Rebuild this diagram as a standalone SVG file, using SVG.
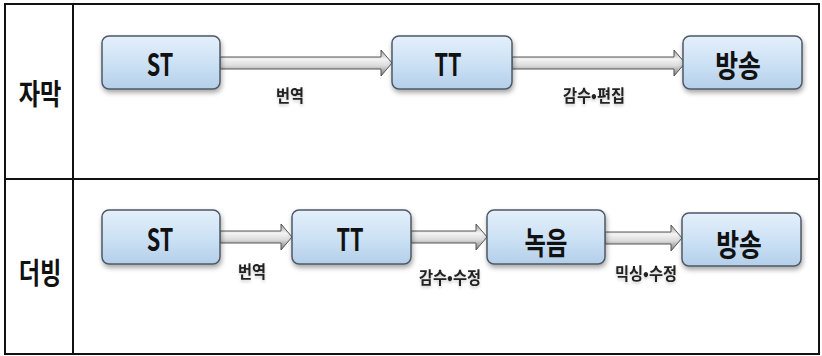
<svg xmlns="http://www.w3.org/2000/svg" width="822" height="356" viewBox="0 0 822 356">
<defs>
<linearGradient id="boxg" x1="0" y1="0" x2="0" y2="1">
<stop offset="0" stop-color="#e4effa"/>
<stop offset="0.5" stop-color="#cde2f5"/>
<stop offset="1" stop-color="#b4cfea"/>
</linearGradient>
<linearGradient id="arrg" x1="0" y1="0" x2="0" y2="1">
<stop offset="0" stop-color="#9a9a9a"/>
<stop offset="0.35" stop-color="#f4f4f4"/>
<stop offset="0.6" stop-color="#dcdcdc"/>
<stop offset="1" stop-color="#7a7a7a"/>
</linearGradient>
<filter id="sh" x="-10%" y="-20%" width="125%" height="150%">
<feDropShadow dx="1" dy="3" stdDeviation="2.5" flood-color="#000" flood-opacity="0.35"/>
</filter>
<filter id="tsh" x="-20%" y="-30%" width="140%" height="170%">
<feDropShadow dx="0" dy="2" stdDeviation="1.5" flood-color="#000" flood-opacity="0.2"/>
</filter>
</defs>
<style>
.tbl{fill:none;stroke:#111;stroke-width:2}
.box{fill:url(#boxg);stroke:#4d5a66;stroke-width:1.5}
.arr{fill:url(#arrg);stroke:#555;stroke-width:1}
.nt{font-family:"Noto Sans CJK KR","Noto Sans",sans-serif;font-weight:bold;font-size:31px;fill:#111;text-anchor:middle}
.rl{font-family:"Noto Sans CJK KR","Noto Sans",sans-serif;font-weight:bold;font-size:29px;fill:#111;text-anchor:middle}
.lb{font-family:"Noto Sans CJK KR","Noto Sans",sans-serif;font-weight:bold;font-size:17px;fill:#222;text-anchor:middle}
</style>
<rect width="822" height="356" fill="#fff"/>
<g id="table">
<rect class="tbl" x="5" y="4" width="814" height="350"/>
<line class="tbl" x1="73" y1="4" x2="73" y2="354"/>
<line class="tbl" x1="5" y1="179" x2="819" y2="179"/>
<text class="rl" transform="translate(40,105) scale(0.8,1)">자막</text>
<text class="rl" transform="translate(40,284) scale(0.8,1)">더빙</text>
</g>
<g id="connectors">
<polygon class="arr" points="220,57 381,57 381,50 392,63 381,76 381,69 220,69"/>
<polygon class="arr" points="512,57 674,57 674,50 685,63 674,76 674,69 512,69"/>
<polygon class="arr" points="220,231 281,231 281,224 292,237 281,250 281,243 220,243"/>
<polygon class="arr" points="411,231 476,231 476,224 487,237 476,250 476,243 411,243"/>
<polygon class="arr" points="605,232 671,232 671,225 682,238 671,251 671,244 605,244"/>
<text class="lb" transform="translate(290,102) scale(0.9,1)" filter="url(#tsh)">번역</text>
<text class="lb" transform="translate(594,102) scale(0.9,1)" filter="url(#tsh)">감수•편집</text>
<text class="lb" transform="translate(252,278) scale(0.9,1)" filter="url(#tsh)">번역</text>
<text class="lb" transform="translate(450,284) scale(0.9,1)" filter="url(#tsh)">감수•수정</text>
<text class="lb" transform="translate(646,280) scale(0.9,1)" filter="url(#tsh)">믹싱•수정</text>
</g>
<g id="n1_st"><rect class="box" x="102" y="36" width="118" height="53" rx="7" filter="url(#sh)"/><text class="nt" transform="translate(160,76) scale(0.7,1)">ST</text></g>
<g id="n1_tt"><rect class="box" x="392" y="36" width="120" height="53" rx="7" filter="url(#sh)"/><text class="nt" transform="translate(448,76) scale(0.7,1)">TT</text></g>
<g id="n1_bs"><rect class="box" x="683" y="36" width="119" height="53" rx="7" filter="url(#sh)"/><text class="nt" transform="translate(738,77) scale(0.8,1)">방송</text></g>
<g id="n2_st"><rect class="box" x="102" y="210" width="118" height="54" rx="7" filter="url(#sh)"/><text class="nt" transform="translate(160,251) scale(0.7,1)">ST</text></g>
<g id="n2_tt"><rect class="box" x="292" y="210" width="119" height="54" rx="7" filter="url(#sh)"/><text class="nt" transform="translate(350,251) scale(0.7,1)">TT</text></g>
<g id="n2_ne"><rect class="box" x="487" y="210" width="118" height="54" rx="7" filter="url(#sh)"/><text class="nt" transform="translate(546,254) scale(0.75,1)">녹음</text></g>
<g id="n2_bs"><rect class="box" x="682" y="213" width="119" height="53" rx="7" filter="url(#sh)"/><text class="nt" transform="translate(739,256) scale(0.8,1)">방송</text></g>
</svg>
